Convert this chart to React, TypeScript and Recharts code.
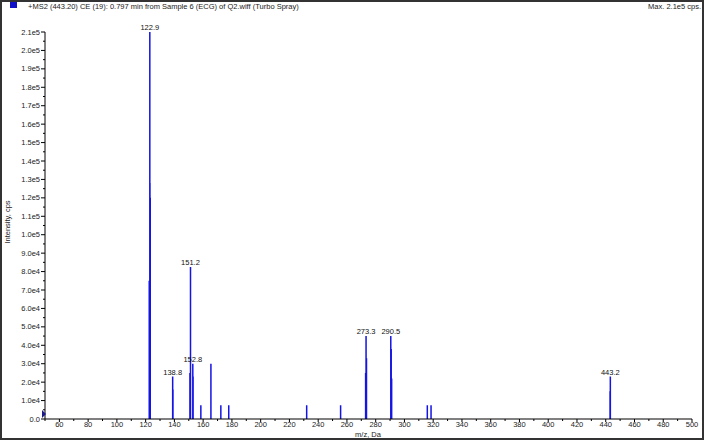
import { ComposedChart, Line, XAxis, YAxis, LabelList, Label } from 'recharts';

// MS2 stick spectrum
const peakMz = [
  122.5, 122.7, 122.9, 123.0, 123.2, 138.8, 139.0, 150.8, 151.2, 152.8, 153.0,
  158.4, 165.4, 172.3, 177.8, 232.0, 255.6, 273.0, 273.3, 273.6, 290.5, 290.8,
  291.1, 315.9, 318.5, 443.0, 443.2,
];
const peakIntensity = [
  75000, 30000, 210000, 128000, 120000, 23000, 16000, 25000, 82500, 30000, 23000,
  7500, 30000, 7500, 7500, 7500, 7500, 25000, 45000, 33000, 45000, 38000,
  22000, 7500, 7500, 15000, 23000,
];
const labelledPeaks = ['122.9', '138.8', '151.2', '152.8', '273.3', '290.5', '443.2'];

const xTicks = Array.from({ length: 46 }, (_, i) => 50 + i * 10);
const yTicks = Array.from({ length: 43 }, (_, i) => i * 5000);

const FONT = '"Liberation Sans", Arial, sans-serif';
const FS = 7.5;
const STICK = '#1414e4';

// each stick = baseline point, top point, then a gap
const stickData = peakMz.flatMap((mz, i) => {
  const label = labelledPeaks.includes(mz.toFixed(1)) ? mz.toFixed(1) : undefined;
  return [
    { mz, intensity: 0 },
    { mz, intensity: peakIntensity[i], label },
    { mz, intensity: null },
  ];
});

const fmtY = (v: number) => {
  if (v === 0) return '0.0';
  const e = Math.floor(Math.log10(v) + 1e-9);
  return `${(v / Math.pow(10, e)).toFixed(1)}e${e}`;
};

const XTick = ({ x, y, payload }: any) => {
  const v = payload.value;
  const major = v % 20 === 0;
  return (
    <g>
      <line x1={x} x2={x} y1={y} y2={y + (major ? 3 : 2)} stroke="#000" />
      {major && (
        <text x={x} y={y + 3} dy="0.71em" textAnchor="middle" fontSize={FS} fontFamily={FONT} fill="#222">
          {v}
        </text>
      )}
    </g>
  );
};

const YTick = ({ x, y, payload }: any) => {
  const v = payload.value;
  const major = v % 10000 === 0;
  return (
    <g>
      <line x1={x - (major ? 4 : 2)} x2={x} y1={y} y2={y} stroke="#000" />
      {major && (
        <text x={x - 5} y={y} dy="0.35em" textAnchor="end" fontSize={FS} fontFamily={FONT} fill="#222">
          {fmtY(v)}
        </text>
      )}
    </g>
  );
};

const PeakLabel = ({ x, y, value }: any) => {
  if (!value) return null;
  return (
    <text x={x} y={y - 2} textAnchor="middle" fontSize={FS} fontFamily={FONT} fill="#111">
      {value}
    </text>
  );
};

export default function App() {
  return (
    <div style={{ position: 'absolute', left: 0, top: 0, width: 704, height: 441, background: '#fff', fontFamily: FONT }}>
      <div style={{ position: 'absolute', left: 10, top: 2, width: 7, height: 6, background: '#1010c8' }} />
      <div style={{ position: 'absolute', left: 28, top: 2, fontSize: 7.5, color: '#222', lineHeight: '9px', whiteSpace: 'nowrap' }}>
        +MS2 (443.20) CE (19): 0.797 min from Sample 6 (ECG) of Q2.wiff (Turbo Spray)
      </div>
      <div style={{ position: 'absolute', right: 3, top: 2, fontSize: 7.5, color: '#222', lineHeight: '9px', whiteSpace: 'nowrap' }}>
        Max. 2.1e5 cps.
      </div>
      <ComposedChart
        width={704}
        height={441}
        data={stickData}
        margin={{ top: 32, right: 12, bottom: 0, left: 0 }}
      >
        <XAxis
          dataKey="mz"
          type="number"
          domain={[50, 500]}
          allowDataOverflow
          ticks={xTicks}
          interval={0}
          tick={<XTick />}
          tickLine={false}
          tickSize={0}
          tickMargin={0}
          height={22}
          axisLine={{ stroke: '#000' }}
        >
          <Label
            content={() => (
              <text x={368} y={434} dy="0.35em" textAnchor="middle" fontSize={FS} fontFamily={FONT} fill="#222">
                m/z, Da
              </text>
            )}
          />
        </XAxis>
        <YAxis
          type="number"
          domain={[0, 210000]}
          allowDataOverflow
          ticks={yTicks}
          interval={0}
          tick={<YTick />}
          tickLine={false}
          tickSize={0}
          tickMargin={0}
          width={45}
          axisLine={{ stroke: '#000' }}
        >
          <Label
            content={() => (
              <text
                x={7}
                y={222}
                dy="0.35em"
                textAnchor="middle"
                fontSize={FS}
                fontFamily={FONT}
                fill="#222"
                transform="rotate(-90 7 222)"
              >
                Intensity, cps
              </text>
            )}
          />
        </YAxis>
        <Line
          type="linear"
          dataKey="intensity"
          stroke={STICK}
          strokeWidth={1.5}
          dot={false}
          activeDot={false}
          isAnimationActive={false}
        >
          <LabelList dataKey="label" content={<PeakLabel />} />
        </Line>
      </ComposedChart>
      <svg style={{ position: 'absolute', left: 41, top: 409 }} width={6} height={10}>
        <path d="M1 1 L5 5 L1 9 Z" fill="#1a1a8a" />
      </svg>
      <div
        style={{
          position: 'absolute',
          left: 0,
          top: 0,
          width: 704,
          height: 440,
          boxSizing: 'border-box',
          border: '2px solid #333',
          pointerEvents: 'none',
        }}
      />
    </div>
  );
}
